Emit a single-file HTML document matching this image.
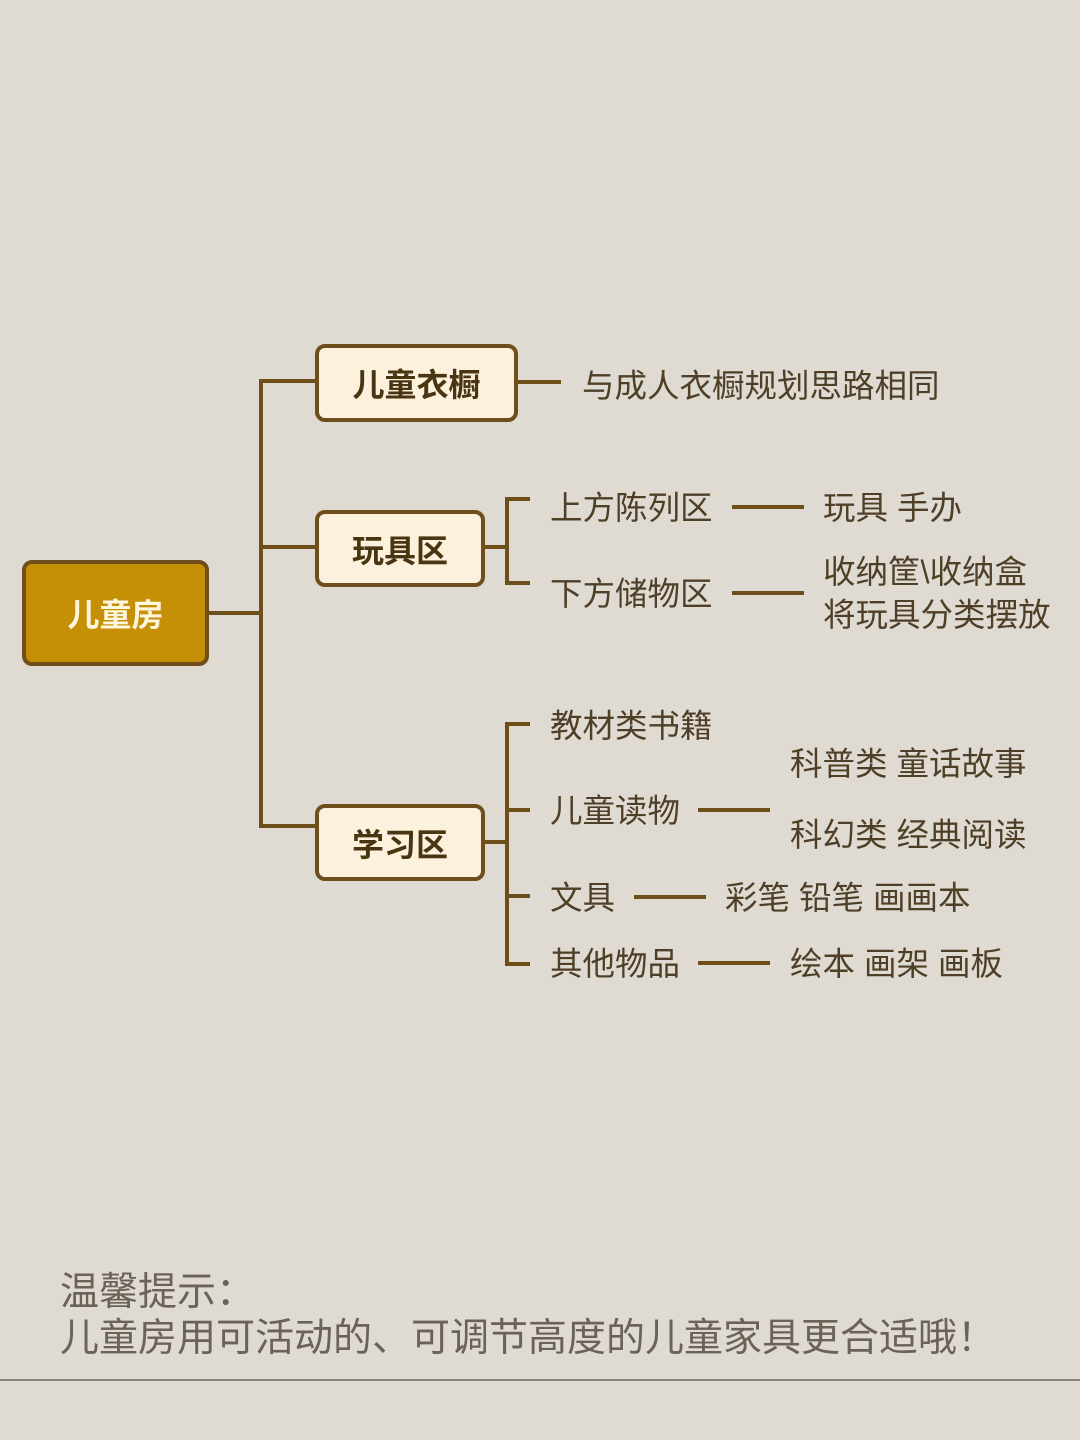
<!DOCTYPE html>
<html><head><meta charset="utf-8"><style>
body{margin:0;width:1080px;height:1440px;background:#dfdbd3;position:relative;overflow:hidden;font-family:"Liberation Sans","Noto Sans CJK SC",sans-serif}
.l{position:absolute;background:#6e4f1c}
.b{position:absolute;box-sizing:border-box;border:4px solid #6e4f1c;border-radius:10px;background:#fbf1dd;color:#4a3512;font-weight:bold;font-size:32px;display:flex;align-items:center;justify-content:center}
.t{position:absolute;color:#4f3f27;font-size:32.5px;line-height:40px;white-space:nowrap}
</style></head><body>
<div class="b" style="left:22px;top:560px;width:187px;height:106px;background:#c58f06;color:#fff6df">儿童房</div>
<div class="l" style="left:208px;top:611px;width:55px;height:4px"></div>
<div class="l" style="left:259px;top:379px;width:4px;height:449px"></div>
<div class="l" style="left:259px;top:379px;width:58px;height:4px"></div>
<div class="l" style="left:259px;top:545px;width:58px;height:4px"></div>
<div class="l" style="left:259px;top:824px;width:58px;height:4px"></div>
<div class="b" style="left:315px;top:344px;width:203px;height:78px">儿童衣橱</div>
<div class="b" style="left:315px;top:510px;width:170px;height:77px">玩具区</div>
<div class="b" style="left:315px;top:804px;width:170px;height:77px">学习区</div>
<div class="l" style="left:517px;top:380px;width:44px;height:4px"></div>
<div class="t" style="left:582px;top:366px">与成人衣橱规划思路相同</div>
<div class="l" style="left:484px;top:545px;width:24px;height:4px"></div>
<div class="l" style="left:505px;top:497px;width:4px;height:88px"></div>
<div class="l" style="left:505px;top:497px;width:25px;height:4px"></div>
<div class="l" style="left:505px;top:581px;width:25px;height:4px"></div>
<div class="t" style="left:550px;top:488px">上方陈列区</div>
<div class="l" style="left:732px;top:505px;width:72px;height:4px"></div>
<div class="t" style="left:823px;top:488px">玩具 手办</div>
<div class="t" style="left:550px;top:574px">下方储物区</div>
<div class="l" style="left:732px;top:591px;width:72px;height:4px"></div>
<div class="t" style="left:823px;top:552px">收纳筐\收纳盒</div>
<div class="t" style="left:823px;top:595px">将玩具分类摆放</div>
<div class="l" style="left:484px;top:840px;width:24px;height:4px"></div>
<div class="l" style="left:505px;top:722px;width:4px;height:244px"></div>
<div class="l" style="left:505px;top:722px;width:25px;height:4px"></div>
<div class="l" style="left:505px;top:808px;width:25px;height:4px"></div>
<div class="l" style="left:505px;top:894px;width:25px;height:4px"></div>
<div class="l" style="left:505px;top:962px;width:25px;height:4px"></div>
<div class="t" style="left:550px;top:706px">教材类书籍</div>
<div class="t" style="left:550px;top:791px">儿童读物</div>
<div class="l" style="left:698px;top:808px;width:72px;height:4px"></div>
<div class="t" style="left:790px;top:744px">科普类 童话故事</div>
<div class="t" style="left:790px;top:815px">科幻类 经典阅读</div>
<div class="t" style="left:550px;top:878px">文具</div>
<div class="l" style="left:634px;top:895px;width:72px;height:4px"></div>
<div class="t" style="left:725px;top:878px">彩笔 铅笔 画画本</div>
<div class="t" style="left:550px;top:944px">其他物品</div>
<div class="l" style="left:698px;top:961px;width:72px;height:4px"></div>
<div class="t" style="left:790px;top:944px">绘本 画架 画板</div>
<div class="t" style="left:60px;top:1270px;font-size:39px;color:#6b6258;line-height:46px">温馨提示：</div>
<div class="t" style="left:60px;top:1316px;font-size:39px;color:#6b6258;line-height:46px">儿童房用可活动的、可调节高度的儿童家具更合适哦！</div>
<div style="position:absolute;left:0;top:1379px;width:1080px;height:2px;background:#8a8276"></div>
</body></html>
